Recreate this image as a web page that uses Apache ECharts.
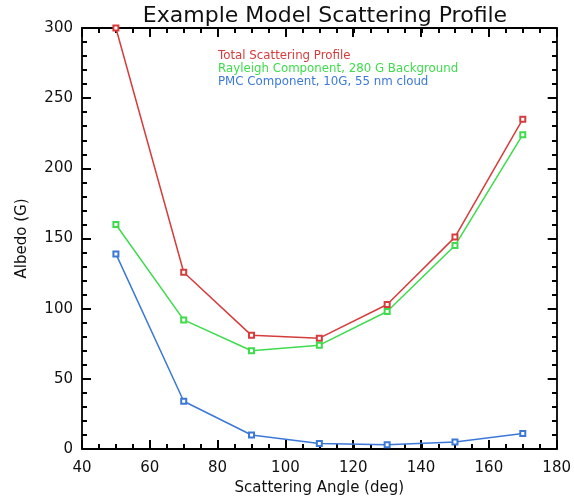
<!DOCTYPE html>
<html>
<head>
<meta charset="utf-8">
<script src="https://cdn.jsdelivr.net/npm/echarts@6/dist/echarts.min.js"></script>
<style>html,body{margin:0;padding:0;background:#fff}#c{width:574px;height:504px}</style>
</head>
<body>
<div id="c"></div>
<script>
var angles = [50, 70, 90, 110, 130, 150, 170];
var totalProfile = [300, 126, 81, 79, 103, 151, 235];
var rayleigh = [160, 92, 70, 74, 98, 145, 224];
var pmc = [139, 34, 10, 4, 3, 5, 11];
var seriesNames = ['Total Scattering Profile', 'Rayleigh Component, 280 G Background', 'PMC Component, 10G, 55 nm cloud'];
var seriesColors = ['#d63c3c', '#3edc4c', '#3b78d8'];
var seriesValues = [totalProfile, rayleigh, pmc];
var xTicks = [40, 60, 80, 100, 120, 140, 160, 180];
var yTicks = [0, 50, 100, 150, 200, 250, 300];
var xMinorStep = 5;
var yMinorStep = 10;

var FONT = 'DejaVu Sans';
var chart = echarts.init(document.getElementById('c'), null, {renderer: 'canvas'});

var xMin = xTicks[0], xMax = xTicks[xTicks.length - 1], xInt = xTicks[1] - xTicks[0];
var yMin = yTicks[0], yMax = yTicks[yTicks.length - 1], yInt = yTicks[1] - yTicks[0];
var gridRect = {left: 82, right: 17, top: 28, bottom: 55, containLabel: false};

function majorAxis(pos, min, max, interval, extra) {
  var a = {
    type: 'value', position: pos, min: min, max: max, interval: interval, gridIndex: 0,
    axisLine: {show: true, onZero: false, lineStyle: {color: '#000', width: 1.8}},
    axisTick: {show: true, inside: true, length: 9, lineStyle: {color: '#000', width: 2}},
    axisLabel: {show: false},
    splitLine: {show: false}
  };
  for (var k in extra) a[k] = extra[k];
  return a;
}
function minorAxis(pos, min, max, interval) {
  return {
    type: 'value', position: pos, min: min, max: max, interval: interval, gridIndex: 1,
    axisLine: {show: false, onZero: false},
    axisTick: {show: true, inside: true, length: 5, lineStyle: {color: '#000', width: 2}},
    axisLabel: {show: false},
    splitLine: {show: false}
  };
}

var option = {
  backgroundColor: '#fff',
  animation: false,
  title: {
    text: 'Example Model Scattering Profile',
    left: 320, textAlign: 'center', top: 0,
    textStyle: {fontFamily: FONT, fontSize: 22, fontWeight: 'normal', color: '#111'}
  },
  legend: {
    orient: 'vertical', left: 208, top: 45, itemGap: 1,
    icon: 'none', itemWidth: 0, itemHeight: 0, selectedMode: false,
    data: seriesNames.map(function (n, i) {
      return {name: n, textStyle: {color: seriesColors[i]}};
    }),
    textStyle: {fontFamily: FONT, fontSize: 11.8}
  },
  grid: [gridRect, gridRect],
  xAxis: [
    majorAxis('bottom', xMin, xMax, xInt, {
      axisLabel: {show: true, fontFamily: FONT, fontSize: 15, color: '#111', margin: 12},
      name: 'Scattering Angle (deg)', nameLocation: 'middle', nameGap: 31,
      nameTextStyle: {fontFamily: FONT, fontSize: 15, color: '#111'}
    }),
    majorAxis('top', xMin, xMax, xInt, {}),
    minorAxis('bottom', xMin, xMax, xMinorStep),
    minorAxis('top', xMin, xMax, xMinorStep)
  ],
  yAxis: [
    majorAxis('left', yMin, yMax, yInt, {
      axisLabel: {show: true, fontFamily: FONT, fontSize: 15, color: '#111', margin: 9},
      name: 'Albedo (G)', nameLocation: 'middle', nameGap: 52, nameRotate: 90,
      nameTextStyle: {fontFamily: FONT, fontSize: 15, color: '#111'}
    }),
    majorAxis('right', yMin, yMax, yInt, {}),
    minorAxis('left', yMin, yMax, yMinorStep),
    minorAxis('right', yMin, yMax, yMinorStep)
  ],
  series: seriesValues.map(function (vals, i) {
    return {
      name: seriesNames[i], type: 'line', xAxisIndex: 0, yAxisIndex: 0,
      data: angles.map(function (a, j) { return [a, vals[j]]; }),
      symbol: 'emptyRect', symbolSize: 5, clip: false,
      lineStyle: {color: seriesColors[i], width: 1.5},
      itemStyle: {color: seriesColors[i], borderColor: seriesColors[i], borderWidth: 1.2}
    };
  })
};
chart.setOption(option);
</script>
</body>
</html>
